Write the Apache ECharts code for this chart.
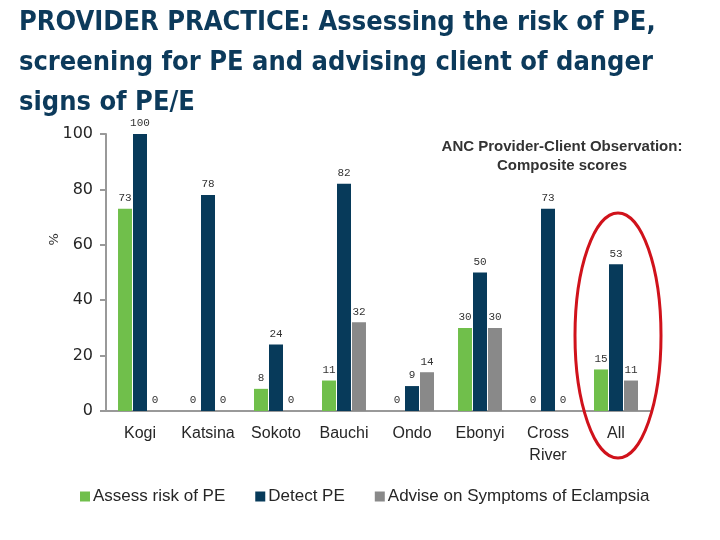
<!DOCTYPE html>
<html>
<head>
<meta charset="utf-8">
<script src="https://cdn.jsdelivr.net/npm/echarts@6/dist/echarts.min.js"></script>
<style>
html,body{margin:0;padding:0;background:#fff;}
#chart{width:720px;height:540px;}
</style>
</head>
<body>
<div id="chart"></div>
<script>
const categories = ['Kogi', 'Katsina', 'Sokoto', 'Bauchi', 'Ondo', 'Ebonyi', 'Cross\nRiver', 'All'];
const assessRisk = [73, 0, 8, 11, 0, 30, 0, 15];
const detectPE = [100, 78, 24, 82, 9, 50, 73, 53];
const adviseSymptoms = [0, 0, 0, 32, 14, 30, 0, 11];
const seriesNames = ['Assess risk of PE', 'Detect PE', 'Advise on Symptoms of Eclampsia'];
const yTicks = [0, 20, 40, 60, 80, 100];

const colors = ['#70bf4b', '#073a5a', '#898989'];
const chart = echarts.init(document.getElementById('chart'));

const labelStyle = {
  show: true, position: 'top', distance: 5,
  fontFamily: "'Liberation Mono', 'DejaVu Sans Mono', monospace",
  fontSize: 11, color: '#333'
};
function mk(name, data, color) {
  return {
    name: name, type: 'bar', data: data, barWidth: 14, barGap: '7%',
    itemStyle: { color: color }, label: labelStyle
  };
}

const option = {
  animation: false,
  backgroundColor: '#fff',
  title: [{
    text: 'PROVIDER PRACTICE: Assessing the risk of PE,\nscreening for PE and advising client of danger\nsigns of PE/E',
    left: 14, top: -2,
    textStyle: {
      fontFamily: "'Liberation Sans Narrow', 'DejaVu Sans Condensed', sans-serif",
      fontSize: 27, fontWeight: 'bold', color: '#0c3a5b', lineHeight: 40
    }
  }, {
    text: 'ANC Provider-Client Observation:\nComposite scores',
    left: 557, top: 132, textAlign: 'center',
    textStyle: {
      fontFamily: "'Liberation Sans', Arial, sans-serif",
      fontSize: 15, fontWeight: 'bold', color: '#333', lineHeight: 19
    }
  }],
  legend: {
    left: 75, top: 483, itemWidth: 10, itemHeight: 10, itemGap: 30,
    icon: 'rect',
    textStyle: { fontFamily: "'Liberation Sans', Arial, sans-serif", fontSize: 17, color: '#262626', padding: [0,0,0,-2] },
    data: seriesNames
  },
  grid: { left: 106, right: 70, top: 134, bottom: 129 },
  xAxis: {
    type: 'category', data: categories,
    axisLine: { lineStyle: { color: '#999', width: 2 } },
    axisTick: { show: false },
    axisLabel: {
      fontFamily: "'Liberation Sans', Arial, sans-serif", fontSize: 16,
      color: '#262626', margin: 12, lineHeight: 22, interval: 0
    }
  },
  yAxis: {
    type: 'value', min: 0, max: 100, interval: 20,
    splitLine: { show: false },
    axisLine: { show: true, lineStyle: { color: '#999', width: 2 } },
    axisTick: { show: true, length: 6, lineStyle: { color: '#999', width: 2 } },
    axisLabel: {
      fontFamily: "'DejaVu Sans', Verdana, sans-serif", fontSize: 16,
      color: '#262626', margin: 13,
      formatter: function (v) { return yTicks.indexOf(v) >= 0 ? String(v) : ''; }
    }
  },
  series: [
    mk(seriesNames[0], assessRisk, colors[0]),
    mk(seriesNames[1], detectPE, colors[1]),
    mk(seriesNames[2], adviseSymptoms, colors[2])
  ]
};
chart.setOption(option);

// red annotation ellipse around the "All" group, and the "%" axis title
const cx = chart.convertToPixel({ xAxisIndex: 0 }, 'All');
const yTop = chart.convertToPixel({ yAxisIndex: 0 }, 71.5);
const yBot = chart.convertToPixel({ yAxisIndex: 0 }, -17);
const yPct = chart.convertToPixel({ yAxisIndex: 0 }, 62);
chart.setOption({
  graphic: [{
    type: 'ellipse', z: 100,
    shape: { cx: cx + 2, cy: (yTop + yBot) / 2, rx: 43, ry: (yBot - yTop) / 2 },
    style: { fill: 'none', stroke: '#d0121b', lineWidth: 3 }
  }, {
    type: 'text', x: 55, y: yPct, rotation: Math.PI / 2,
    style: { text: '%', fontFamily: "'DejaVu Sans', sans-serif", fontSize: 13, fill: '#333',
             align: 'center', verticalAlign: 'middle' }
  }]
});
</script>
</body>
</html>
